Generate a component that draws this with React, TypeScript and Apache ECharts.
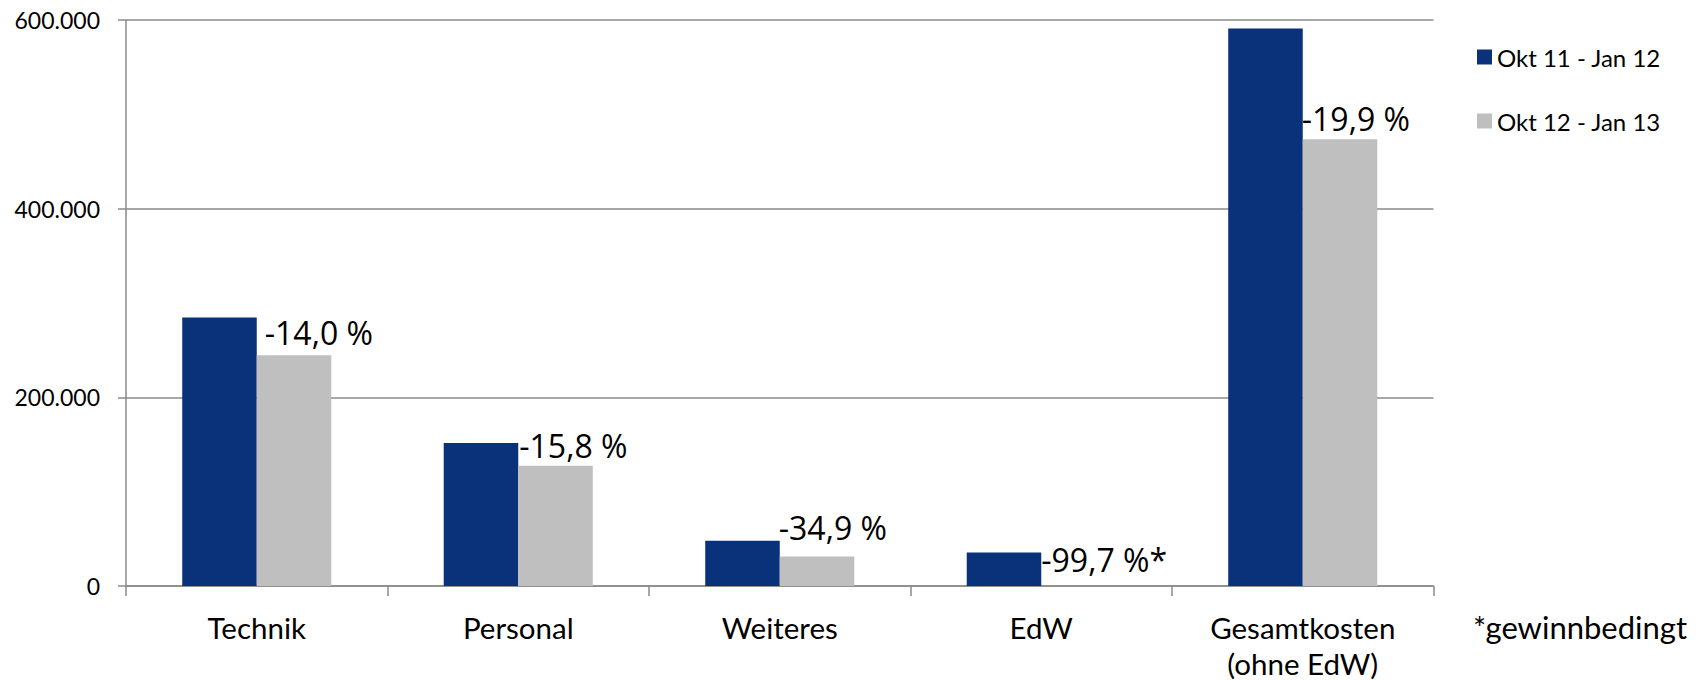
import React, { useEffect, useRef } from "react";
import * as echarts from "echarts";

const categories = ["Technik", "Personal", "Weiteres", "EdW", "Gesamtkosten\n(ohne EdW)"];
const seriesNames = ["Okt 11 - Jan 12", "Okt 12 - Jan 13"];
const valuesOkt11Jan12 = [284500, 151500, 48000, 35500, 591000];
const valuesOkt12Jan13 = [244700, 127500, 31250, 107, 473500];
const changeLabels = ["-14,0 %", "-15,8 %", "-34,9 %", "-99,7 %*", "-19,9 %"];
const yMin = 0;
const yMax = 600000;
const yInterval = 200000;
const footnote = "*gewinnbedingt";

// layout: label offset from the grey bar's top-left corner (px)
const labelShiftX = [8, 1, -1, 0, -1];
const labelLift = [23, 20, 29, 26, 21];

const fmt = (v: number) => String(v).replace(/\B(?=(\d{3})+(?!\d))/g, ".");

export default function App() {
  const ref = useRef<HTMLDivElement>(null);
  useEffect(() => {
    document.body.style.margin = "0";
    if (!ref.current) return;
    const chart = echarts.init(ref.current, null, { renderer: "svg" });
    const grid = "#8a8a8a";
    chart.setOption({
      animation: false,
      backgroundColor: "#ffffff",
      grid: { left: 126, right: 274.5, top: 20, bottom: 94, outerBoundsMode: "none" },
      legend: {
        orient: "vertical",
        left: 1477,
        top: 42,
        padding: 0,
        itemWidth: 15,
        itemHeight: 15,
        itemGap: 34,
        icon: "rect",
        selectedMode: false,
        textStyle: { fontFamily: "Lato", fontSize: 24, color: "#000", lineHeight: 30 },
        data: seriesNames,
      },
      xAxis: {
        type: "category",
        data: categories,
        axisLine: { lineStyle: { color: grid, width: 1.5 } },
        axisTick: { show: true, length: 10, lineStyle: { color: grid, width: 1.5 } },
        axisLabel: { fontFamily: "Lato", fontSize: 29.5, color: "#000", lineHeight: 36, margin: 23 },
      },
      yAxis: {
        type: "value",
        min: yMin,
        max: yMax,
        interval: yInterval,
        axisLine: { show: true, lineStyle: { color: grid, width: 1.5 } },
        axisTick: { show: true, length: 8, lineStyle: { color: grid, width: 1.5 } },
        splitLine: { show: true, lineStyle: { color: grid, width: 1.5 } },
        axisLabel: { fontFamily: "Lato", fontSize: 23, color: "#000", margin: 26, formatter: (v: number) => fmt(v) },
      },
      graphic: [
        {
          type: "text",
          left: 1473,
          top: 611,
          style: { text: footnote, fontFamily: "Lato", fontSize: 31, fill: "#000" },
        },
      ],
      series: [
        {
          name: seriesNames[0],
          type: "bar",
          data: valuesOkt11Jan12,
          barWidth: "28.5%",
          barGap: "0%",
          itemStyle: { color: "#0A327A" },
        },
        {
          name: seriesNames[1],
          type: "bar",
          barWidth: "28.5%",
          barGap: "0%",
          itemStyle: { color: "#BFBFBF" },
          data: valuesOkt12Jan13.map((v, i) => ({
            value: v,
            label: {
              show: true,
              position: [labelShiftX[i], -labelLift[i]],
              align: "left",
              verticalAlign: "middle",
              formatter: changeLabels[i],
              fontFamily: "Open Sans",
              fontSize: 32,
              color: "#000",
            },
          })),
        },
      ],
    });
    return () => chart.dispose();
  }, []);
  return <div ref={ref} style={{ width: 1708, height: 680 }} />;
}
